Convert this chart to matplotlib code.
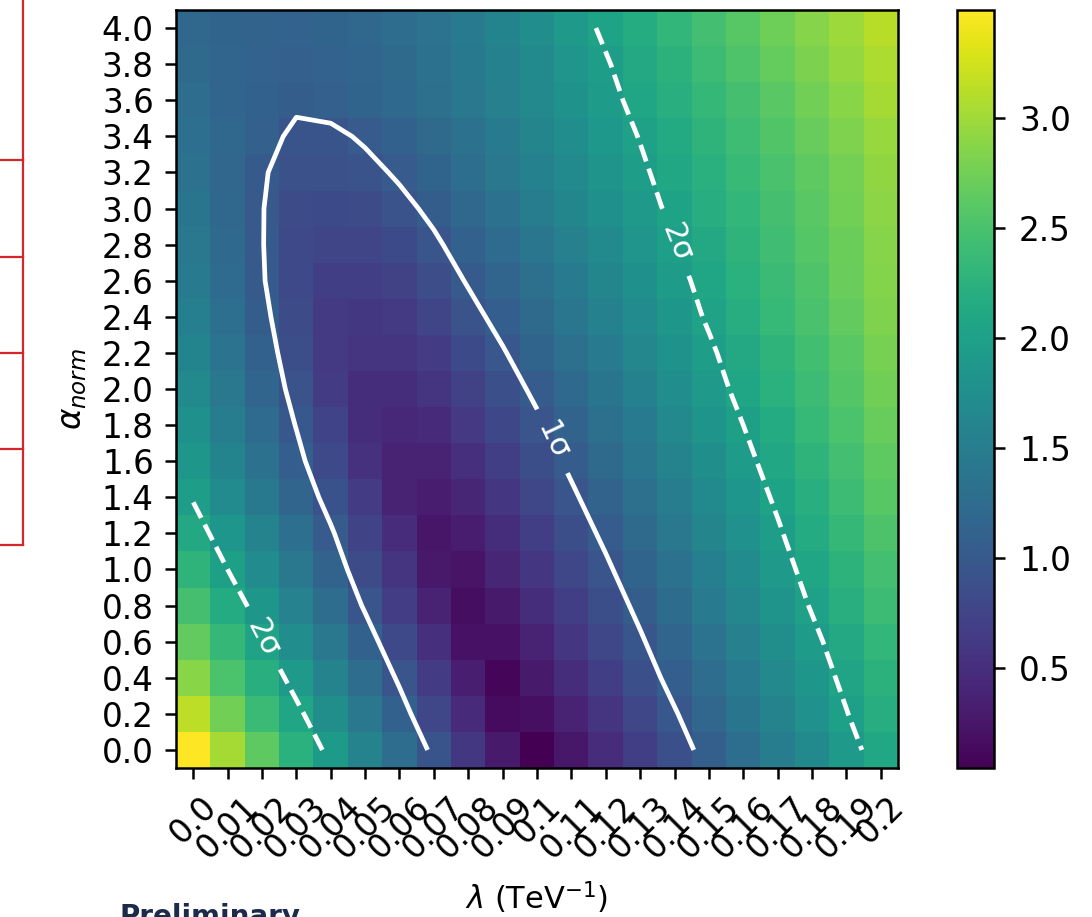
import numpy as np
import matplotlib
matplotlib.use("Agg")
import matplotlib.pyplot as plt
from matplotlib.lines import Line2D


# tick labels
lam_labels = ["0.0", "0.01", "0.02", "0.03", "0.04", "0.05", "0.06", "0.07", "0.08", "0.09", "0.1",
              "0.11", "0.12", "0.13", "0.14", "0.15", "0.16", "0.17", "0.18", "0.19", "0.2"]
alpha_labels = ["0.0", "0.2", "0.4", "0.6", "0.8", "1.0", "1.2", "1.4", "1.6", "1.8", "2.0",
                "2.2", "2.4", "2.6", "2.8", "3.0", "3.2", "3.4", "3.6", "3.8", "4.0"]

# significance per alpha_norm row (columns = lambda 0.0 .. 0.2)
a00 = [3.49, 3.02, 2.63, 2.25, 1.92, 1.59, 1.27, 0.94, 0.61, 0.30, 0.045, 0.27, 0.48, 0.68, 0.885, 1.09, 1.29, 1.50, 1.70, 1.91, 2.11]
a02 = [3.15, 2.75, 2.39, 2.07, 1.75, 1.43, 1.11, 0.78, 0.46, 0.15, 0.18, 0.38, 0.58, 0.78, 0.98, 1.18, 1.38, 1.59, 1.79, 1.99, 2.19]
a04 = [2.88, 2.52, 2.21, 1.89, 1.58, 1.27, 0.96, 0.64, 0.33, 0.10, 0.29, 0.49, 0.68, 0.88, 1.08, 1.27, 1.47, 1.67, 1.87, 2.06, 2.26]
a06 = [2.66, 2.34, 2.03, 1.73, 1.42, 1.12, 0.81, 0.51, 0.21, 0.21, 0.39, 0.59, 0.78, 0.97, 1.17, 1.36, 1.55, 1.75, 1.94, 2.13, 2.33]
a08 = [2.47, 2.17, 1.87, 1.57, 1.27, 0.97, 0.67, 0.38, 0.17, 0.30, 0.49, 0.68, 0.87, 1.06, 1.26, 1.45, 1.64, 1.83, 2.02, 2.21, 2.40]
a10 = [2.29, 2.00, 1.71, 1.43, 1.14, 0.85, 0.57, 0.28, 0.22, 0.41, 0.59, 0.78, 0.96, 1.15, 1.34, 1.53, 1.71, 1.90, 2.09, 2.27, 2.46]
a12 = [2.13, 1.85, 1.58, 1.30, 1.03, 0.75, 0.48, 0.26, 0.32, 0.50, 0.68, 0.87, 1.05, 1.24, 1.42, 1.61, 1.79, 1.97, 2.16, 2.34, 2.53]
a14 = [1.98, 1.71, 1.44, 1.17, 0.91, 0.64, 0.37, 0.31, 0.41, 0.59, 0.78, 0.96, 1.14, 1.32, 1.50, 1.68, 1.86, 2.04, 2.22, 2.41, 2.59]
a16 = [1.87, 1.60, 1.34, 1.07, 0.80, 0.54, 0.39, 0.38, 0.52, 0.69, 0.87, 1.05, 1.23, 1.40, 1.58, 1.76, 1.93, 2.11, 2.29, 2.46, 2.64]
a18 = [1.77, 1.51, 1.25, 0.99, 0.74, 0.50, 0.44, 0.46, 0.62, 0.79, 0.96, 1.14, 1.31, 1.48, 1.66, 1.83, 2.00, 2.17, 2.35, 2.52, 2.69]
a20 = [1.68, 1.43, 1.17, 0.92, 0.66, 0.50, 0.49, 0.56, 0.72, 0.89, 1.05, 1.22, 1.39, 1.56, 1.73, 1.90, 2.07, 2.24, 2.40, 2.57, 2.74]
a22 = [1.60, 1.36, 1.11, 0.87, 0.63, 0.56, 0.56, 0.66, 0.82, 0.98, 1.15, 1.31, 1.47, 1.64, 1.80, 1.96, 2.13, 2.29, 2.45, 2.61, 2.78]
a24 = [1.53, 1.30, 1.06, 0.83, 0.63, 0.61, 0.63, 0.76, 0.92, 1.08, 1.24, 1.40, 1.56, 1.71, 1.87, 2.03, 2.19, 2.35, 2.50, 2.66, 2.82]
a26 = [1.47, 1.25, 1.02, 0.80, 0.69, 0.68, 0.72, 0.86, 1.02, 1.17, 1.32, 1.47, 1.63, 1.78, 1.93, 2.08, 2.24, 2.39, 2.54, 2.70, 2.85]
a28 = [1.42, 1.22, 1.01, 0.81, 0.76, 0.76, 0.82, 0.96, 1.11, 1.25, 1.40, 1.55, 1.69, 1.84, 1.99, 2.13, 2.28, 2.43, 2.58, 2.72, 2.87]
a30 = [1.38, 1.19, 1.01, 0.84, 0.82, 0.83, 0.93, 1.057, 1.20, 1.35, 1.49, 1.63, 1.77, 1.91, 2.05, 2.19, 2.33, 2.47, 2.61, 2.75, 2.89]
a32 = [1.34, 1.18, 1.022, 0.90, 0.895, 0.925, 1.036, 1.16, 1.29, 1.42, 1.56, 1.69, 1.83, 1.96, 2.10, 2.23, 2.37, 2.50, 2.64, 2.77, 2.92]
a34 = [1.30, 1.19, 1.106, 0.935, 0.943, 1.035, 1.12, 1.23, 1.35, 1.48, 1.61, 1.74, 1.88, 2.01, 2.15, 2.28, 2.42, 2.55, 2.69, 2.82, 2.96]
a36 = [1.27, 1.17, 1.12, 1.058, 1.10, 1.15, 1.22, 1.31, 1.42, 1.54, 1.67, 1.80, 1.93, 2.07, 2.20, 2.34, 2.48, 2.61, 2.75, 2.88, 3.02]
a38 = [1.24, 1.17, 1.13, 1.10, 1.13, 1.17, 1.24, 1.33, 1.44, 1.56, 1.69, 1.84, 1.98, 2.12, 2.26, 2.40, 2.54, 2.67, 2.81, 2.94, 3.07]
a40 = [1.21, 1.16, 1.14, 1.13, 1.16, 1.20, 1.27, 1.36, 1.47, 1.60, 1.74, 1.90, 2.04, 2.18, 2.32, 2.46, 2.60, 2.73, 2.86, 2.99, 3.12]

sig = np.array([a00, a02, a04, a06, a08, a10, a12, a14, a16, a18, a20,
                a22, a24, a26, a28, a30, a32, a34, a36, a38, a40])

W, H = 1092, 917
fs = 23.5
fig = plt.figure(figsize=(W/100, H/100), dpi=100)

ax = fig.add_axes([176/W, 1-768/H, 722/W, 758/H])
im = ax.imshow(sig, origin="lower", aspect="auto", cmap="viridis", interpolation="nearest")

cs = ax.contour(sig, levels=[1, 2], colors="white", linewidths=3.4,
                linestyles=["solid", "dashed"])
ax.clabel(cs, fmt={1: "1σ", 2: "2σ"}, fontsize=22, inline=True, inline_spacing=16,
          manual=[(10.55, 8.6), (14.05, 14.05), (2.05, 3.1)])

ax.set_xticks(range(len(lam_labels)))
ax.set_xticklabels(lam_labels, rotation=45, fontsize=fs)
ax.set_yticks(range(len(alpha_labels)))
ax.set_yticklabels(alpha_labels, fontsize=fs)
ax.tick_params(length=8, width=1.8, pad=8)
for s in ax.spines.values():
    s.set_linewidth(1.8)

ax.set_xlabel(r"$\lambda$ (TeV$^{-1}$)", fontsize=22)
ax.xaxis.set_label_coords(0.5, -0.147)
ax.set_ylabel(r"$\alpha_{norm}$", fontsize=fs, labelpad=9)

cax = fig.add_axes([957/W, 1-768/H, 37/W, 758/H])
cb = fig.colorbar(im, cax=cax)
cb.ax.tick_params(labelsize=fs, length=8, width=1.8, pad=10)
cb.outline.set_linewidth(1.8)

# bits of the slide around the plot
red = "#d7262b"
fig.add_artist(Line2D([23/W, 23/W], [1, 1-545/H], color=red, lw=1.6, transform=fig.transFigure))
for yy in [160, 257, 353, 449, 545]:
    fig.add_artist(Line2D([0, 23/W], [1-yy/H, 1-yy/H], color=red, lw=1.6, transform=fig.transFigure))
fig.text(120/W, 1-903/H, "Preliminary", fontsize=20, fontweight="bold", color="#1c2b4b", va="top")

fig.savefig("out.png", dpi=100)
